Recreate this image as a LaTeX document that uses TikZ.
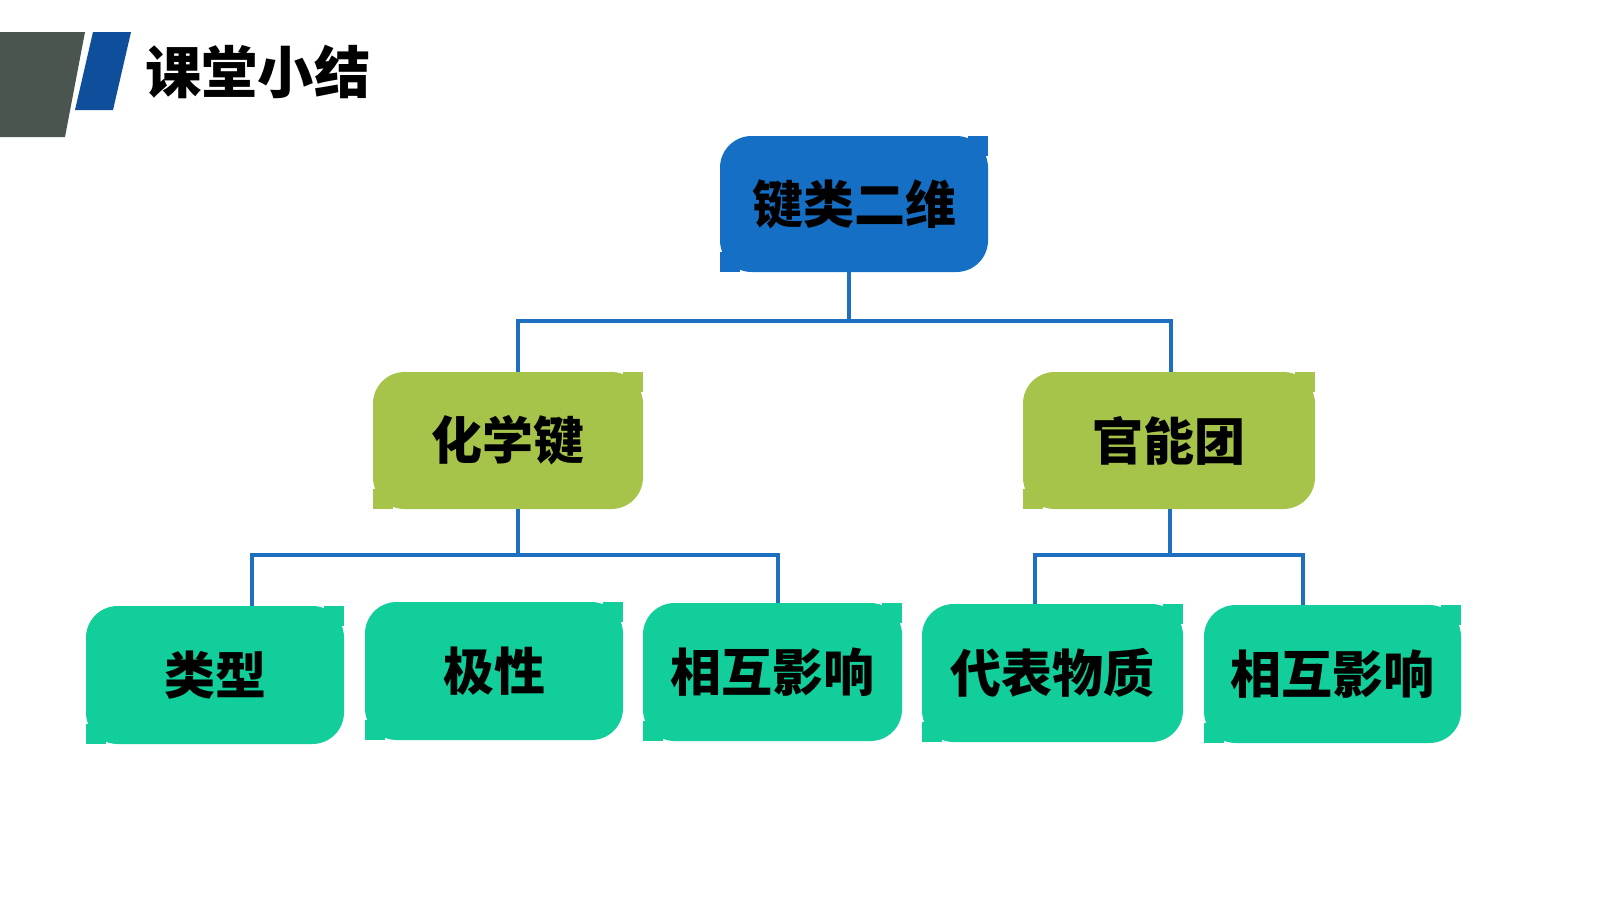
\documentclass[tikz,border=0pt]{standalone}
\usepackage{fontspec}
\newfontfamily\cjk{Noto Sans CJK SC}
\definecolor{topc}{HTML}{1570C5}
\definecolor{midc}{HTML}{A6C34A}
\definecolor{lowc}{HTML}{12CE9A}
\definecolor{linec}{HTML}{1E6FC0}
\definecolor{darkg}{HTML}{4A5550}
\definecolor{hblue}{HTML}{0E4E9A}
\newcommand{\bx}[7]{%
 \fill[#6,rounded corners=9pt] (#2,#3) rectangle (#4,#5);
 \fill[#6] ({#4-20},#3) rectangle (#4,{#3+20});
 \fill[#6] (#2,{#5-20}) rectangle ({#2+20},#5);
 \node[lbl] (#1) at ({(#2+#4)/2},{(#3+#5)/2}) {#7};}
\begin{document}
\begin{tikzpicture}[x=0.01cm,y=-0.01cm,
 lbl/.style={font=\cjk\fontsize{14.5pt}{16pt}\selectfont\bfseries,text=black},
 conn/.style={linec,line width=1pt}]
\useasboundingbox[fill=white] (0,0) rectangle (1600,900);
\fill[darkg] (0,32) -- (85,32) -- (65,137) -- (0,137) -- cycle;
\fill[hblue] (93,32) -- (131,32) -- (113,110) -- (75,110) -- cycle;
\node[font=\cjk\fontsize{16pt}{18pt}\selectfont\bfseries,anchor=west] (title) at (133,72) {课堂小结};
\bx{top}{720}{136}{988}{272}{topc}{键类二维}
\bx{m1}{373}{372}{643}{509}{midc}{化学键}
\bx{m2}{1023}{372}{1315}{509}{midc}{官能团}
\bx{a}{86}{606}{344}{744}{lowc}{类型}
\bx{b}{365}{602}{623}{740}{lowc}{极性}
\bx{c}{643}{603}{902}{741}{lowc}{相互影响}
\bx{d}{922}{604}{1183}{742}{lowc}{代表物质}
\bx{e}{1204}{605}{1461}{743}{lowc}{相互影响}
\coordinate (t0) at (849,272);
\coordinate (m1t) at (518,372);
\coordinate (m2t) at (1171,372);
\draw[conn] (t0) -- (849,321) -| (m1t);
\draw[conn] (849,321) -| (m2t);
\coordinate (m1b) at (518,509);
\coordinate (at) at (252,606);
\coordinate (ct) at (778,603);
\draw[conn] (m1b) -- (518,555) -| (at);
\draw[conn] (518,555) -| (ct);
\coordinate (m2b) at (1170,509);
\coordinate (dt) at (1035,604);
\coordinate (et) at (1303,605);
\draw[conn] (m2b) -- (1170,555) -| (dt);
\draw[conn] (1170,555) -| (et);
\end{tikzpicture}
\end{document}
